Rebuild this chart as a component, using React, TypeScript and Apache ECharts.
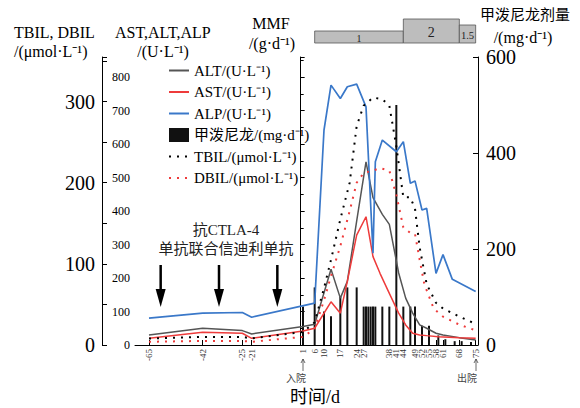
import React, { useEffect, useRef } from "react";
import * as echarts from "echarts";

const SERIF = '"Liberation Serif", "Times New Roman", "Noto Sans CJK SC", serif';

// x-axis tick labels (days)
const X_TICKS = [-65, -42, -25, -21, 1, 6, 10, 17, 24, 27, 38, 41, 44, 49, 52, 55, 58, 61, 68, 75];

// [day, U/L]
const ALT = [[-65, 30], [-42, 50], [-25, 43], [-21, 33], [1, 55], [6, 62], [13, 226], [17, 140], [20, 190], [24, 370], [28, 547], [31, 440], [35, 390], [38, 360], [42, 215], [45, 140], [48, 95], [51, 60], [54, 50], [58, 35], [61, 30], [68, 22], [75, 15]];
const AST = [[-65, 20], [-42, 38], [-25, 35], [-21, 20], [1, 42], [6, 50], [13, 129], [17, 95], [20, 190], [24, 328], [28, 383], [31, 264], [34, 214], [38, 154], [42, 95], [45, 60], [48, 35], [51, 30], [54, 28], [59, 25], [68, 22], [75, 20]];
const ALP = [[-65, 80], [-42, 95], [-25, 97], [-21, 83], [6, 125], [10, 642], [13, 776], [17, 736], [20, 771], [24, 779], [28, 711], [31, 274], [32, 547], [35, 612], [41, 577], [44, 607], [47, 483], [49, 490], [52, 403], [54, 408], [58, 214], [61, 270], [65, 196], [75, 160]];
// [day, μmol/L]
const TBIL = [[-65, 8], [-42, 10], [-25, 10], [-21, 8], [1, 16], [6, 28], [10, 70], [13, 105], [17, 155], [21, 200], [24, 270], [27, 295], [31, 305], [35, 303], [38, 295], [41, 245], [44, 182], [47, 182], [49, 168], [51, 120], [54, 75], [58, 52], [61, 45], [68, 35], [75, 26]];
const DBIL = [[-65, 4], [-42, 5], [-25, 5], [-21, 4], [1, 10], [6, 20], [10, 55], [13, 85], [17, 122], [21, 165], [24, 200], [27, 212], [31, 215], [34, 218], [38, 215], [41, 185], [44, 145], [47, 138], [49, 137], [51, 105], [53, 75], [57, 45], [61, 35], [68, 25], [75, 18]];
// [day, mg/d] methylprednisolone
const MP = [[1, 80], [6, 120], [10, 70], [13, 60], [17, 100], [20, 120], [24, 120], [27, 80], [28, 80], [29, 80], [30, 80], [31, 80], [32, 80], [35, 80], [38, 80], [41, 500], [44, 80], [47, 80], [49, 80], [52, 40], [55, 40], [59, 20], [62, 12], [66, 8], [69, 8], [73, 6]];
// MMF dosing periods
const MMF_START = [6, 44, 68];
const MMF_END = [44, 68, 75];
const MMF_DOSE = [1, 2, 1.5];
// treatment arrows (days)
const ARROW_DAYS = [-60, -35, -10];

const N_ALT = "ALT/(U·L⁻¹)";
const N_AST = "AST/(U·L⁻¹)";
const N_ALP = "ALP/(U·L⁻¹)";
const N_MP = "甲泼尼龙/(mg·d⁻¹)";
const N_TBIL = "TBIL/(μmol·L⁻¹)";
const N_DBIL = "DBIL/(μmol·L⁻¹)";

export default function App() {
  const ref = useRef<HTMLDivElement>(null);
  useEffect(() => {
    const chart = echarts.init(ref.current!, null, { renderer: "svg" });
    const txt = (x: number, y: number, text: string, size: number, align = "left", fill = "#000") => ({
      type: "text",
      x,
      y,
      silent: true,
      style: { text, fontSize: size, fontFamily: SERIF, fill, align, verticalAlign: "middle" },
    });
    const upArrow = (x: number, y1: number, y2: number) => ({
      type: "group",
      silent: true,
      children: [
        { type: "line", shape: { x1: x, y1, x2: x, y2 }, style: { stroke: "#444", lineWidth: 0.8 } },
        { type: "polyline", shape: { points: [[x - 2, y1 + 4], [x, y1], [x + 2, y1 + 4]] }, style: { stroke: "#444", lineWidth: 0.8, fill: null } },
      ],
    });
    const lineSeries = (name: string, data: number[][], yAxisIndex: number, color: string, width: number, type: any) => ({
      name,
      type: "line",
      xAxisIndex: 0,
      yAxisIndex,
      data,
      symbol: "none",
      lineStyle: { color, width, type },
      itemStyle: { color, opacity: 0 },
      z: 3,
    });
    chart.setOption({
      animation: false,
      backgroundColor: "#fff",
      grid: [
        { left: 135, right: 102, top: 57, bottom: 63 },
        { left: 135, right: 102, top: 7, height: 36 },
      ],
      legend: {
        orient: "vertical",
        left: 163,
        top: 58,
        itemGap: 6.5,
        itemWidth: 20,
        itemHeight: 14,
        textStyle: { fontSize: 15, fontFamily: SERIF, color: "#000" },
        data: [
          { name: N_ALT },
          { name: N_AST },
          { name: N_ALP },
          { name: N_MP, icon: "rect" },
          { name: N_TBIL },
          { name: N_DBIL },
        ],
      },
      xAxis: [
        {
          type: "value",
          gridIndex: 0,
          min: -71,
          max: 76,
          splitLine: { show: false },
          axisLine: { lineStyle: { color: "#000", width: 1 } },
          axisTick: { show: true, inside: true, length: 5, customValues: X_TICKS, lineStyle: { color: "#000" } },
          axisLabel: { customValues: X_TICKS, rotate: 90, fontSize: 9, fontFamily: SERIF, color: "#333", margin: 4 },
        },
        { type: "value", gridIndex: 1, min: -71, max: 76, show: false },
      ],
      yAxis: [
        {
          type: "value",
          gridIndex: 0,
          position: "left",
          offset: 0,
          min: 0,
          max: 860,
          interval: 100,
          splitLine: { show: false },
          axisLine: { show: true, lineStyle: { color: "#000", width: 1 } },
          axisTick: { show: true, inside: true, length: 4, lineStyle: { color: "#000" } },
          minorTick: { show: true, splitNumber: 2, length: 3, lineStyle: { color: "#000" } },
          axisLabel: { fontSize: 12, fontFamily: SERIF, color: "#000", margin: 5, showMaxLabel: false },
        },
        {
          type: "value",
          gridIndex: 0,
          position: "left",
          offset: 33,
          min: 0,
          max: 355,
          interval: 100,
          splitLine: { show: false },
          axisLine: { show: true, lineStyle: { color: "#000", width: 1 } },
          axisTick: { show: true, inside: true, length: 5, lineStyle: { color: "#000" } },
          minorTick: { show: true, splitNumber: 2, length: 5, lineStyle: { color: "#000" } },
          axisLabel: { fontSize: 20, fontFamily: SERIF, color: "#000", margin: 7, showMaxLabel: false },
        },
        {
          type: "value",
          gridIndex: 0,
          position: "right",
          min: 0,
          max: 600,
          interval: 200,
          splitLine: { show: false },
          axisLine: { show: true, lineStyle: { color: "#000", width: 1 } },
          axisTick: { show: true, inside: true, length: 5, lineStyle: { color: "#000" } },
          axisLabel: { fontSize: 20, fontFamily: SERIF, color: "#000", margin: 8 },
        },
        { type: "value", gridIndex: 1, min: 0, max: 3, show: false },
      ],
      series: [
        {
          name: N_MP,
          type: "bar",
          xAxisIndex: 0,
          yAxisIndex: 2,
          barWidth: 2,
          data: MP,
          itemStyle: { color: "#111" },
          z: 1,
        },
        lineSeries(N_ALT, ALT, 0, "#555", 1.5, "solid"),
        lineSeries(N_AST, AST, 0, "#ee3b3b", 1.5, "solid"),
        lineSeries(N_ALP, ALP, 0, "#3a78c9", 1.7, "solid"),
        lineSeries(N_TBIL, TBIL, 1, "#000", 2, [2, 6]),
        lineSeries(N_DBIL, DBIL, 1, "#ee3b3b", 2, [2, 6]),
        {
          name: "arrows",
          type: "custom",
          xAxisIndex: 0,
          yAxisIndex: 0,
          silent: true,
          data: ARROW_DAYS.map((d) => [d, 0]),
          renderItem: (_p: any, api: any) => {
            const p = api.coord([api.value(0), 0]);
            const x = p[0];
            const y0 = p[1];
            return {
              type: "group",
              children: [
                { type: "line", shape: { x1: x, y1: y0 - 80, x2: x, y2: y0 - 52 }, style: { stroke: "#000", lineWidth: 2.5 } },
                { type: "polygon", shape: { points: [[x - 5, y0 - 56], [x + 5, y0 - 56], [x, y0 - 38]] }, style: { fill: "#000" } },
              ],
            };
          },
        },
        {
          name: "MMF",
          type: "custom",
          xAxisIndex: 1,
          yAxisIndex: 3,
          silent: true,
          encode: { x: [0, 1], y: 2 },
          data: MMF_START.map((s, i) => [s, MMF_END[i], MMF_DOSE[i]]),
          renderItem: (_p: any, api: any) => {
            const s = api.coord([api.value(0), 0]);
            const e = api.coord([api.value(1), api.value(2)]);
            const w = e[0] - s[0];
            const h = s[1] - e[1];
            const fs = Math.min(14, h - 2, w * 0.65);
            return {
              type: "group",
              children: [
                { type: "rect", shape: { x: s[0], y: e[1], width: w, height: h }, style: { fill: "#bdbdbd", stroke: "#555", lineWidth: 0.8 } },
                {
                  type: "text",
                  x: s[0] + w / 2,
                  y: e[1] + h / 2 + 1,
                  style: { text: String(api.value(2)), fontSize: fs, fontFamily: SERIF, fill: "#222", align: "center", verticalAlign: "middle" },
                },
              ],
            };
          },
        },
      ],
      graphic: [
        txt(14, 32, "TBIL, DBIL", 16),
        txt(14, 51, "/(μmol·L⁻¹)", 16),
        txt(115, 32, "AST,ALT,ALP", 16),
        txt(163, 51, "/(U·L⁻¹)", 16, "center"),
        txt(271, 23, "MMF", 16, "center"),
        txt(272, 43, "/(g·d⁻¹)", 16, "center"),
        txt(525, 15, "甲泼尼龙剂量", 15, "center"),
        txt(523, 37, "/(mg·d⁻¹)", 16, "center"),
        txt(226, 230, "抗CTLA-4", 15, "center", "#222"),
        txt(226, 249, "单抗联合信迪利单抗", 15, "center", "#222"),
        txt(315, 397, "时间/d", 18, "center"),
        upArrow(303, 359, 371),
        txt(296, 378, "入院", 10, "center", "#444"),
        upArrow(476, 359, 371),
        txt(467, 378, "出院", 10, "center", "#444"),
      ],
    });
    return () => chart.dispose();
  }, []);
  return <div ref={ref} style={{ position: "fixed", left: 0, top: 0, width: 580, height: 408 }} />;
}
